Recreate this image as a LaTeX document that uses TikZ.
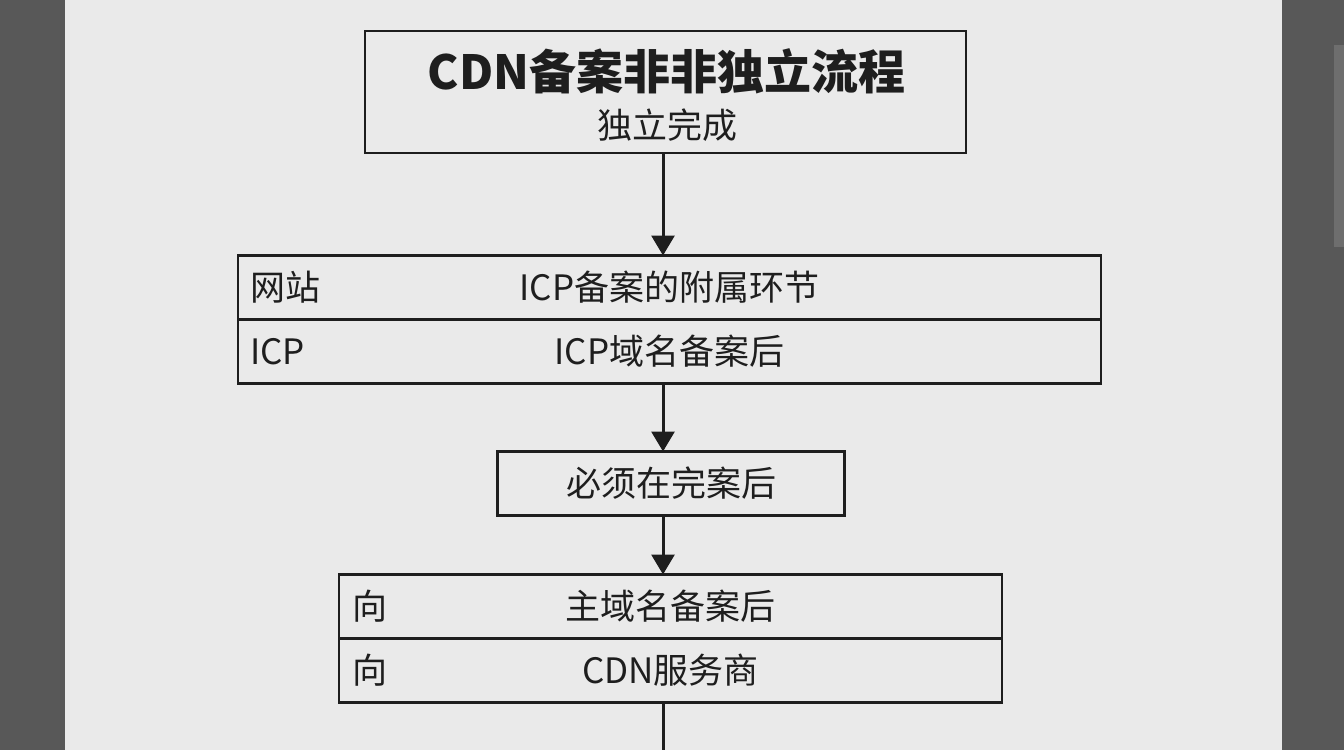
\documentclass[tikz,border=0pt]{standalone}
\usepackage{fontspec}
\newfontfamily\cjk{Noto Sans CJK SC}
\usetikzlibrary{positioning,arrows.meta,calc}
\definecolor{paper}{HTML}{EAEAEA}
\definecolor{desk}{HTML}{585858}
\definecolor{sliver}{HTML}{6E6E6E}
\definecolor{ink}{HTML}{1E1E1E}

\begin{document}
\begin{tikzpicture}[
      x = 1pt, y = -1pt,
      node distance = 0pt,
      base/.style={rectangle, draw=ink, line width=2.4pt, inner sep=0pt, outer sep=0pt,
                   text=ink, font=\cjk\fontsize{35}{40}\selectfont},
      row/.style={base, minimum height=64pt},
      lab/.style={inner sep=0pt, outer sep=0pt, text=ink, font=\cjk\fontsize{35}{40}\selectfont},
      flow/.style={draw=ink, line width=3pt, -{Triangle[width=23pt,length=20pt]}},
    ]
      % desk and sheet
      \fill[desk] (0,0) rectangle (1344,750);
      \fill[paper] (65,0) rectangle (1282,750);
      \fill[sliver] (1334,45) rectangle (1344,247);

      % title
      \node[base, minimum width = 601pt, minimum height = 122pt] (ttl) at (665.5,92) {};
      \node[lab, font=\cjk\bfseries\fontsize{47}{50}\selectfont] (ttlmain) at ($ (ttl.north) + (1,40) $) {CDN备案非非独立流程};
      \node[lab] (ttlsub) at ($ (ttl.north) + (1.5,94) $) {独立完成};

      % ICP
      \node[row, minimum width = 863pt] (w1) at (669.5,287.5) {ICP备案的附属环节};
      \node[row, minimum width = 863pt, below = 0pt of w1] (w2) {ICP域名备案后};
      \node[lab, right = 12pt of w1.west] (w1l) {网站};
      \node[lab, right = 12pt of w2.west] (w2l) {ICP};

      % must
      \node[row, minimum width = 347pt] (must) at (671,483.5) {必须在完案后};

      % CDN
      \node[row, minimum width = 663pt] (c1) at (670.5,606.5) {主域名备案后};
      \node[row, minimum width = 663pt, below = 0pt of c1] (c2) {CDN服务商};
      \node[lab, right = 13pt of c1.west] (c1l) {向};
      \node[lab, right = 13pt of c2.west] (c2l) {向};

      % arrows
      \coordinate (axis) at (663,0);
      \coordinate (tail) at (663,750);
      \draw[flow] (ttl.south -| axis) -- (w1.north -| axis);
      \draw[flow] (w2.south -| axis) -- (must.north -| axis);
      \draw[flow] (must.south -| axis) -- (c1.north -| axis);
      \draw[draw=ink, line width=3pt] (c2.south -| axis) -- (tail);

    \end{tikzpicture}
\end{document}
